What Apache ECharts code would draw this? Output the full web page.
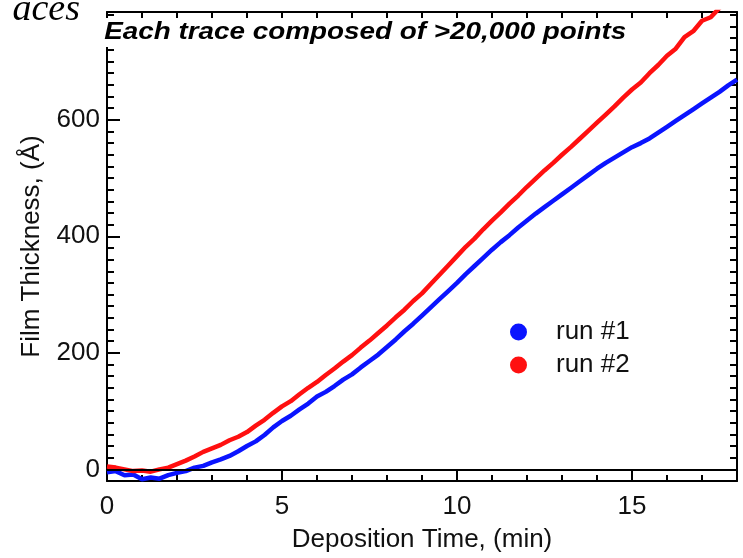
<!DOCTYPE html>
<html><head><meta charset="utf-8">
<script src="https://cdn.jsdelivr.net/npm/echarts@6/dist/echarts.min.js"></script>
<style>html,body{margin:0;padding:0;background:#fff}#c{width:743px;height:558px}</style>
</head><body><div id="c"></div>
<script>
const timeMin = [0,0.25,0.5,0.75,1,1.25,1.5,1.75,2,2.25,2.5,2.75,3,3.25,3.5,3.75,4,4.25,4.5,4.75,5,5.25,5.5,5.75,6,6.25,6.5,6.75,7,7.25,7.5,7.75,8,8.25,8.5,8.75,9,9.25,9.5,9.75,10,10.25,10.5,10.75,11,11.25,11.5,11.75,12,12.25,12.5,12.75,13,13.25,13.5,13.75,14,14.25,14.5,14.75,15,15.25,15.5,15.75,16,16.25,16.5,16.75,17,17.25,17.5,17.75,18];
const run1 = [-5,-3,-10,-9,-17,-14,-16,-10,-6,-3,3,6,12,17,23,31,40,48,59,72,83,92,103,113,125,133,143,154,163,175,186,197,210,223,237,250,264,278,292,306,320,335,349,363,377,390,402,415,427,439,450,461,472,483,494,505,516,526,535,544,553,560,568,578,588,598,608,618,628,638,648,659,669];
const run2 = [5,3,0,-3,-2,-4,0,3,9,15,22,30,36,42,50,56,64,75,85,97,108,117,129,140,150,162,173,185,196,209,221,234,247,261,274,289,302,318,334,350,366,382,396,412,427,441,456,470,485,499,513,526,540,553,567,581,595,609,623,638,652,664,680,694,710,722,742,752,770,776,792,805,818];
const seriesNames = ['run #1', 'run #2'];
const xMajorTicks = [0,5,10,15];
const xMinorTicks = [1,2,3,4,6,7,8,9,11,12,13,14,16,17];
const xTopTicks = [1,2,3,4,5,6,7,8,9,10,11,12,13,14,15,16,17];
const yMajorTicks = [0,200,400,600];
const yMinorTicks = [20,40,60,80,100,120,140,160,180,220,240,260,280,300,320,340,360,380,420,440,460,480,500,520,540,560,580,620,640,660,680,700,720,740,760,780];
const yRightTicks = [0,20,40,60,80,100,120,140,160,180,200,220,240,260,280,300,320,340,360,380,400,420,440,460,480,500,520,540,560,580,600,620,640,660,680,700,720,740,760,780];
const xLabel = 'Deposition Time, (min)';
const yLabel = 'Film Thickness, (Å)';
const noteText = 'Each trace composed of >20,000 points';
const cornerText = 'aces';

const FONT = '"Liberation Sans", Arial, sans-serif';
const X_MIN = 0, X_MAX = 18, Y_MIN = -20, Y_MAX = 785;
const line = {show: true, onZero: false, lineStyle: {color: '#000', width: 2}};
const noLine = {show: false, onZero: false};
const tickStyle = {color: '#000', width: 2};
const chart = echarts.init(document.getElementById('c'));
const pairs = (ys) => timeMin.map((t, i) => [t, ys[i]]);

chart.setOption({
  animation: false,
  backgroundColor: '#fff',
  grid: {left: 107, right: 6, top: 12, bottom: 73, containLabel: false},
  xAxis: [
    {type: 'value', position: 'bottom', min: X_MIN, max: X_MAX,
     name: xLabel, nameLocation: 'middle', nameGap: 46,
     nameTextStyle: {fontFamily: FONT, fontSize: 26, color: '#111'},
     axisLine: line,
     axisTick: {show: true, inside: true, length: 11, customValues: xMajorTicks, lineStyle: tickStyle},
     axisLabel: {customValues: xMajorTicks, fontFamily: FONT, fontSize: 26, color: '#111', margin: 13},
     splitLine: {show: false}},
    {type: 'value', position: 'bottom', min: X_MIN, max: X_MAX,
     axisLine: noLine,
     axisTick: {show: true, inside: true, length: 6, customValues: xMinorTicks, lineStyle: tickStyle},
     axisLabel: {show: false}, splitLine: {show: false}},
    {type: 'value', position: 'top', min: X_MIN, max: X_MAX,
     axisLine: line,
     axisTick: {show: true, inside: true, length: 6, customValues: xTopTicks, lineStyle: tickStyle},
     axisLabel: {show: false}, splitLine: {show: false}}
  ],
  yAxis: [
    {type: 'value', position: 'left', min: Y_MIN, max: Y_MAX,
     name: yLabel, nameLocation: 'middle', nameGap: 62,
     nameTextStyle: {fontFamily: FONT, fontSize: 26, color: '#111'},
     axisLine: line,
     axisTick: {show: true, inside: true, length: 13, customValues: yMajorTicks, lineStyle: tickStyle},
     axisLabel: {customValues: yMajorTicks, fontFamily: FONT, fontSize: 26, color: '#111', margin: 7},
     splitLine: {show: false}},
    {type: 'value', position: 'left', min: Y_MIN, max: Y_MAX,
     axisLine: noLine,
     axisTick: {show: true, inside: true, length: 7, customValues: yMinorTicks, lineStyle: tickStyle},
     axisLabel: {show: false}, splitLine: {show: false}},
    {type: 'value', position: 'right', min: Y_MIN, max: Y_MAX,
     axisLine: line,
     axisTick: {show: true, inside: true, length: 7, customValues: yRightTicks, lineStyle: tickStyle},
     axisLabel: {show: false}, splitLine: {show: false}}
  ],
  legend: {
    orient: 'vertical', left: 505, top: 314, itemWidth: 17, itemHeight: 17, itemGap: 7,
    icon: 'circle', data: seriesNames,
    textStyle: {fontFamily: FONT, fontSize: 26, color: '#111', padding: [0, 0, 0, 24]}
  },
  series: [
    {name: seriesNames[0], type: 'line', xAxisIndex: 0, yAxisIndex: 0, data: pairs(run1),
     symbol: 'none', color: '#0a14ff', lineStyle: {width: 4.5, color: '#0a14ff'}, clip: true,
     markLine: {silent: true, symbol: ['none', 'none'], label: {show: false},
       lineStyle: {color: '#000', width: 2, type: 'solid'}, data: [{yAxis: 0}]}},
    {name: seriesNames[1], type: 'line', xAxisIndex: 0, yAxisIndex: 0, data: pairs(run2),
     symbol: 'none', color: '#ff1010', lineStyle: {width: 4.5, color: '#ff1010'}, clip: true}
  ],
  graphic: [
    {type: 'text', x: 80, y: -9, z: 100,
     style: {text: cornerText, align: 'right', font: 'italic 38px "Liberation Serif", "Times New Roman", serif', fill: '#000'}},
    {type: 'text', x: 103, y: 18, scaleX: 1.16, z: 100,
     style: {text: noteText, font: 'italic bold 24px "Liberation Sans", Arial, sans-serif', fill: '#000',
       backgroundColor: '#fff', padding: [2, 2, 3, 1]}}
  ]
});
</script>
</body></html>
